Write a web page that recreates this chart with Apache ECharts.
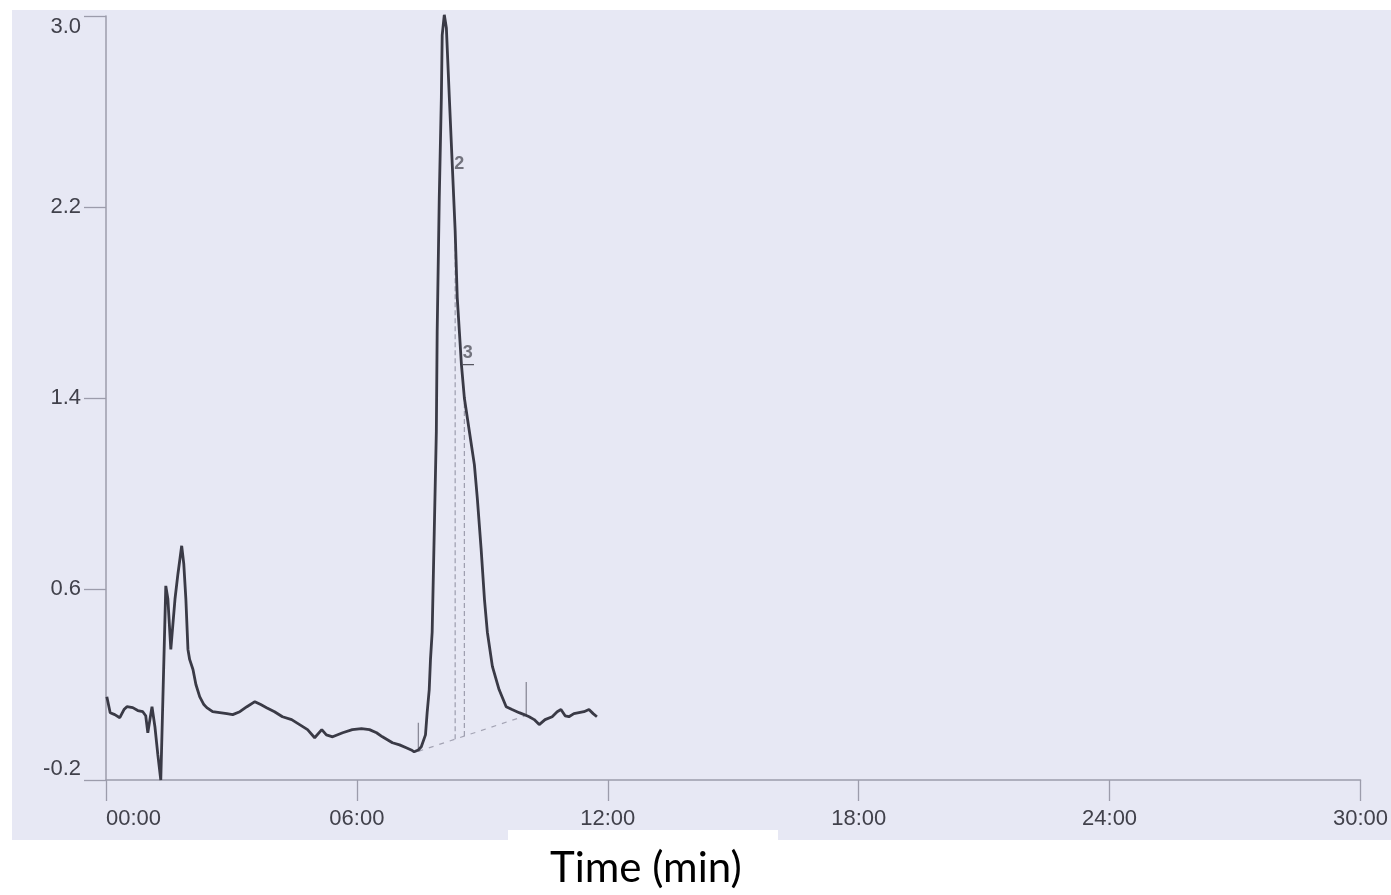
<!DOCTYPE html>
<html>
<head>
<meta charset="utf-8">
<style>
html,body{margin:0;padding:0;background:#fff;}
#chart{width:1391px;height:895px;}
</style>
<script src="https://cdn.jsdelivr.net/npm/echarts@6/dist/echarts.min.js"></script>
</head>
<body>
<div id="chart"></div>
<script>
// ---- data (time in minutes, detector response) ----
const times = [0.02,0.10,0.21,0.33,0.43,0.50,0.64,0.76,0.88,0.95,1.00,1.05,1.10,1.17,1.24,1.31,1.36,1.43,1.48,1.55,1.60,1.65,1.72,1.81,1.86,1.91,1.96,2.00,2.08,2.15,2.24,2.34,2.41,2.55,2.72,2.89,3.03,3.20,3.37,3.56,3.70,3.84,4.03,4.22,4.44,4.63,4.82,4.99,5.16,5.27,5.42,5.66,5.89,6.11,6.30,6.47,6.61,6.85,7.02,7.18,7.30,7.37,7.47,7.54,7.64,7.68,7.73,7.76,7.80,7.85,7.90,7.92,7.97,8.02,8.04,8.09,8.14,8.21,8.28,8.35,8.40,8.45,8.50,8.57,8.69,8.81,8.88,8.97,9.05,9.12,9.24,9.40,9.57,9.71,9.88,10.00,10.12,10.24,10.36,10.50,10.67,10.79,10.88,10.98,11.07,11.19,11.31,11.43,11.55,11.65,11.74];
const values = [0.149,0.082,0.074,0.061,0.095,0.107,0.103,0.091,0.086,0.069,-0.002,0.053,0.107,0.023,-0.095,-0.200,0.137,0.613,0.558,0.347,0.453,0.558,0.663,0.781,0.705,0.558,0.347,0.305,0.263,0.200,0.149,0.116,0.103,0.086,0.082,0.078,0.074,0.086,0.107,0.128,0.116,0.103,0.086,0.065,0.053,0.032,0.011,-0.023,0.011,-0.011,-0.019,-0.002,0.011,0.015,0.011,-0.002,-0.019,-0.044,-0.053,-0.065,-0.074,-0.082,-0.074,-0.061,-0.011,0.082,0.179,0.305,0.419,0.840,1.260,1.680,2.240,2.660,2.920,3.005,2.950,2.660,2.380,2.100,1.820,1.680,1.540,1.400,1.260,1.120,0.980,0.770,0.558,0.419,0.276,0.179,0.107,0.095,0.082,0.074,0.065,0.053,0.032,0.053,0.065,0.086,0.095,0.069,0.065,0.078,0.082,0.086,0.095,0.078,0.065];

const xTickValues = [0, 6, 12, 18, 24, 30];
const xTickLabels = ['00:00', '06:00', '12:00', '18:00', '24:00', '30:00'];
const yTickValues = [-0.2, 0.6, 1.4, 2.2, 3.0];
const yTickLabels = ['-0.2', '0.6', '1.4', '2.2', '3.0'];

// integration marks
const markTimes = [7.47, 10.05];
const markLow = [-0.075, 0.07];
const markHigh = [0.04, 0.21];
// dashed baseline
const baseTimes = [7.47, 10.05];
const baseValues = [-0.08, 0.07];
// dashed drop lines
const dropTimes = [8.35, 8.57];
const dropTops = [2.10, 1.40];
// peak labels
const peakNames = ['2', '3'];
const peakLabelTimes = [8.45, 8.65];
const peakLabelValues = [2.38, 1.59];
const underlineTimes = [8.51, 8.80];
const underlineValue = 1.54;

const axisColor = '#9c9cab';
const labelColor = '#41414b';
const traceColor = '#3a3a46';

function baseAt(t) {
  const f = (t - baseTimes[0]) / (baseTimes[1] - baseTimes[0]);
  return baseValues[0] + f * (baseValues[1] - baseValues[0]);
}

const series = [];
series.push({
  type: 'line', data: times.map((t, i) => [t, values[i]]),
  showSymbol: false, clip: false, smooth: false,
  lineStyle: { color: traceColor, width: 2.8 }, z: 5
});
series.push({
  type: 'line', data: baseTimes.map((t, i) => [t, baseValues[i]]),
  showSymbol: false, lineStyle: { color: '#a4a4b4', width: 1.2, type: [5, 6] }, z: 3
});
dropTimes.forEach((t, i) => {
  series.push({
    type: 'line', data: [[t, baseAt(t)], [t, dropTops[i]]],
    showSymbol: false, lineStyle: { color: '#9d9dad', width: 1.2, type: [5, 3] }, z: 3
  });
});
markTimes.forEach((t, i) => {
  series.push({
    type: 'line', data: [[t, markLow[i]], [t, markHigh[i]]],
    showSymbol: false, lineStyle: { color: '#8a8a98', width: 1.3 }, z: 4
  });
});
series.push({
  type: 'line', data: underlineTimes.map(t => [t, underlineValue]),
  showSymbol: false, lineStyle: { color: '#55555f', width: 1.4 }, z: 6
});
series.push({
  type: 'scatter', symbolSize: 0,
  data: peakNames.map((n, i) => ({ value: [peakLabelTimes[i], peakLabelValues[i]], name: n })),
  label: {
    show: true, position: 'inside', formatter: p => p.name,
    fontFamily: 'Liberation Sans', fontSize: 18, fontWeight: 'bold', color: '#55555f'
  }, z: 7
});

const chart = echarts.init(document.getElementById('chart'), null, { renderer: 'canvas' });
chart.setOption({
  animation: false,
  backgroundColor: '#e7e8f4',
  title: {
    text: 'Time (min)', left: 545, top: 838,
    textStyle: { fontFamily: 'Lato', fontSize: 42, fontWeight: 'normal', color: '#000', lineHeight: 50 }
  },
  graphic: [
    { type: 'rect', z: -10, shape: { x: 0, y: 0, width: 1391, height: 10 }, style: { fill: '#fff' } },
    { type: 'rect', z: -10, shape: { x: 0, y: 0, width: 12, height: 895 }, style: { fill: '#fff' } },
    { type: 'rect', z: -10, shape: { x: 0, y: 840, width: 1391, height: 55 }, style: { fill: '#fff' } },
    { type: 'rect', z: -10, shape: { x: 508, y: 830, width: 270, height: 65 }, style: { fill: '#fff' } }
  ],
  grid: { left: 106, right: 28, top: 16, bottom: 115, containLabel: false },
  xAxis: {
    type: 'value', min: 0, max: 30, interval: 6,
    axisLine: { show: true, onZero: false, lineStyle: { color: axisColor, width: 1.5 } },
    axisTick: { show: true, length: 21, lineStyle: { color: axisColor, width: 1.3 }, customValues: xTickValues },
    splitLine: { show: false },
    axisLabel: {
      customValues: xTickValues,
      formatter: v => xTickLabels[xTickValues.indexOf(v)],
      margin: 28, fontFamily: 'Liberation Sans', fontSize: 22, color: labelColor,
      alignMinLabel: 'left'
    }
  },
  yAxis: {
    type: 'value', min: -0.2, max: 3.0,
    axisLine: { show: true, onZero: false, lineStyle: { color: axisColor, width: 1.5 } },
    axisTick: { show: true, length: 22, lineStyle: { color: axisColor, width: 1.3 }, customValues: yTickValues },
    splitLine: { show: false },
    axisLabel: {
      customValues: yTickValues,
      formatter: v => yTickLabels[yTickValues.findIndex(x => Math.abs(x - v) < 1e-6)],
      margin: 25, fontFamily: 'Liberation Sans', fontSize: 22, color: labelColor,
      verticalAlignMinLabel: 'bottom', verticalAlignMaxLabel: 'top'
    }
  },
  series: series
});
</script>
</body>
</html>
